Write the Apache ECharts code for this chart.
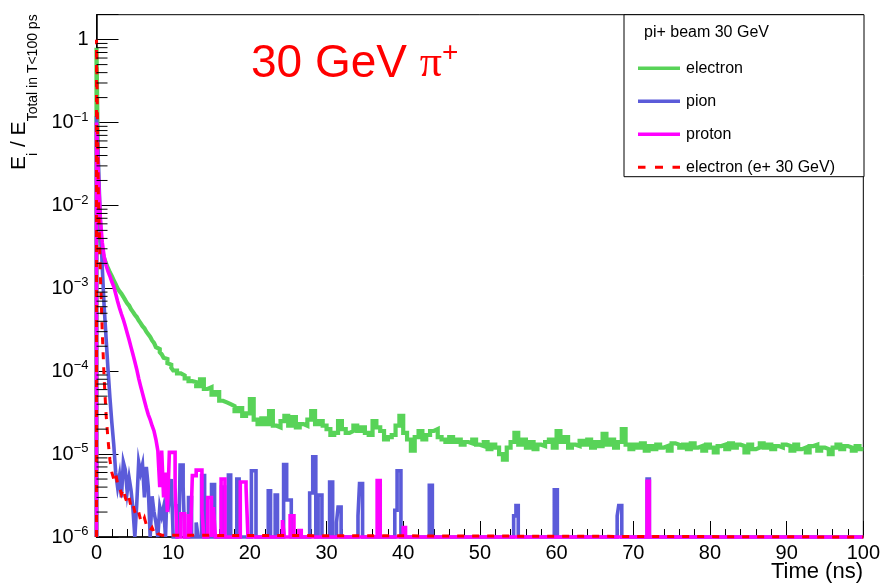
<!DOCTYPE html>
<html>
<head>
<meta charset="utf-8">
<script src="https://cdn.jsdelivr.net/npm/echarts@6/dist/echarts.min.js"></script>
<style>
  html, body { margin: 0; padding: 0; background: #fff; }
  #chart { width: 883px; height: 584px; }
</style>
</head>
<body>
<div id="chart"></div>
<script>
// Energy fraction per time bin, E_i / E_total (T < 100 ps), 30 GeV pi+ beam.
// Each entry is [bin start (ns), bin content]; a content of 0 is an empty bin.

const Y_MIN = 1e-6;
const Y_MAX = 2;

// electron component: fine bins up to 10 ns
const electronHead = [
  [0, 0.8], [0.25, 0.012], [0.5, 4e-3], [0.75, 2.8e-3], [1.0, 2.3e-3], [1.25, 2.0e-3],
  [1.5, 1.75e-3], [1.75, 1.55e-3], [2.0, 1.4e-3], [2.25, 1.25e-3], [2.5, 1.12e-3],
  [2.75, 1.0e-3], [3.0, 9.2e-4], [3.25, 8.6e-4], [3.5, 7.9e-4], [3.75, 7.2e-4],
  [4.0, 6.6e-4], [4.25, 6.2e-4], [4.5, 5.6e-4], [4.75, 5.2e-4], [5.0, 4.8e-4],
  [5.25, 4.5e-4], [5.5, 4.1e-4], [5.75, 3.8e-4], [6.0, 3.5e-4], [6.25, 3.3e-4],
  [6.5, 3.0e-4], [6.75, 2.8e-4], [7.0, 2.6e-4], [7.25, 2.35e-4], [7.5, 2.2e-4],
  [7.75, 1.95e-4], [8.0, 1.85e-4], [8.25, 1.7e-4], [8.5, 1.6e-4], [8.75, 1.45e-4],
  [9.0, 1.4e-4], [9.25, 1.25e-4], [9.5, 1.2e-4], [9.75, 1.1e-4]
];
// electron component: 0.5 ns bins from 10 ns to 100 ns
const electronTailStart = 10;
const electronTailWidth = 0.5;
const electronTail = [
  1.02e-4, 9.4e-5, 8.9e-5, 8.2e-5, 7.6e-5, 7.4e-5, 6.6e-5, 8.0e-5, 6.1e-5, 6.4e-5,
  5.2e-5, 5.6e-5, 4.4e-5, 4.2e-5, 4.0e-5, 3.8e-5, 3.3e-5, 3.6e-5, 2.9e-5, 3.1e-5,
  4.6e-5, 2.6e-5, 2.3e-5, 2.7e-5, 2.3e-5, 3.3e-5, 2.2e-5, 2.1e-5, 2.5e-5, 2.9e-5,
  2.2e-5, 2.8e-5, 2.1e-5, 2.3e-5, 2.2e-5, 2.6e-5, 3.3e-5, 2.3e-5, 2.5e-5, 2.2e-5,
  2.0e-5, 1.7e-5, 1.8e-5, 2.5e-5, 2.0e-5, 1.8e-5, 1.9e-5, 2.2e-5, 1.9e-5, 2.1e-5,
  1.8e-5, 1.7e-5, 2.5e-5, 2.1e-5, 1.9e-5, 1.5e-5, 1.6e-5, 1.7e-5, 2.2e-5, 2.9e-5,
  1.8e-5, 1.5e-5, 1.1e-5, 1.6e-5, 1.9e-5, 1.5e-5, 1.7e-5, 1.9e-5, 2.0e-5, 1.6e-5,
  1.5e-5, 1.4e-5, 1.6e-5, 1.4e-5, 1.5e-5, 1.3e-5, 1.4e-5, 1.35e-5, 1.5e-5, 1.3e-5,
  1.25e-5, 1.4e-5, 1.15e-5, 1.3e-5, 1.2e-5, 1.0e-5, 8.6e-6, 1.2e-5, 1.4e-5, 1.8e-5,
  1.3e-5, 1.5e-5, 1.2e-5, 1.4e-5, 1.15e-5, 1.3e-5, 1.25e-5, 1.4e-5, 1.5e-5, 1.2e-5,
  1.9e-5, 1.4e-5, 1.6e-5, 1.2e-5, 1.3e-5, 1.25e-5, 1.45e-5, 1.3e-5, 1.5e-5, 1.2e-5,
  1.4e-5, 1.25e-5, 1.75e-5, 1.3e-5, 1.5e-5, 1.2e-5, 1.4e-5, 2.0e-5, 1.3e-5, 1.15e-5,
  1.3e-5, 1.2e-5, 1.35e-5, 1.1e-5, 1.25e-5, 1.15e-5, 1.3e-5, 1.2e-5, 1.25e-5, 1.1e-5,
  1.35e-5, 1.3e-5, 1.2e-5, 1.3e-5, 1.15e-5, 1.35e-5, 1.2e-5, 1.25e-5, 1.1e-5, 1.3e-5,
  1.2e-5, 1.05e-5, 1.25e-5, 1.3e-5, 1.15e-5, 1.35e-5, 1.2e-5, 1.3e-5, 1.25e-5, 1.05e-5,
  1.3e-5, 1.15e-5, 1.2e-5, 1.35e-5, 1.2e-5, 1.3e-5, 1.15e-5, 1.25e-5, 1.2e-5, 1.3e-5,
  1.25e-5, 1.1e-5, 1.3e-5, 1.15e-5, 1.2e-5, 1.05e-5, 1.25e-5, 1.3e-5, 1.1e-5, 1.2e-5,
  1.15e-5, 1.0e-5, 1.2e-5, 1.3e-5, 1.15e-5, 1.25e-5, 1.2e-5, 1.1e-5, 1.25e-5, 1.15e-5
];

// pion component
const pionHist = [
  [0, 0.12], [0.25, 0.032], [0.5, 6.5e-3], [0.75, 1.8e-3], [1.0, 6e-4], [1.25, 2.5e-4],
  [1.5, 1.05e-4], [1.75, 4.8e-5], [2.0, 2.4e-5], [2.25, 1.3e-5], [2.5, 6e-6], [2.75, 4e-6],
  [3.0, 5.5e-6], [3.25, 3e-6], [3.5, 8e-6], [3.75, 6.5e-6], [4.0, 3.5e-6], [4.25, 5.2e-6],
  [4.5, 3.7e-6], [4.75, 2.2e-6], [5.0, 0], [5.25, 2.5e-6], [5.5, 8e-6], [5.75, 6e-6],
  [6.0, 7.5e-6], [6.25, 3e-6], [6.5, 7e-6], [6.75, 4e-6], [7.0, 0], [7.25, 3.1e-6],
  [7.5, 2e-6], [7.75, 1.5e-6], [8.0, 0], [8.25, 2.3e-6], [8.5, 1.8e-6], [8.75, 2.3e-6],
  [9.0, 0], [9.25, 4.9e-6], [9.5, 3e-6], [9.75, 5e-6], [10.0, 0], [10.5, 2.5e-6],
  [10.75, 0], [10.9, 7.4e-6], [11.3, 4e-6], [11.5, 0], [12.0, 3e-6], [12.4, 0],
  [13.0, 1.5e-6], [13.25, 0], [13.7, 5.5e-6], [14.1, 0], [15.0, 4.3e-6], [15.4, 0],
  [16.3, 4e-6], [16.7, 0], [17.2, 5.6e-6], [17.5, 0], [18.3, 5e-6], [18.6, 0],
  [20.2, 6.3e-6], [20.8, 0], [22.4, 3.6e-6], [22.7, 0], [23.3, 3.2e-6], [23.6, 0],
  [24.4, 7.5e-6], [24.8, 2.8e-6], [25.4, 0], [27.8, 3.4e-6], [28.2, 9.3e-6], [28.6, 0],
  [28.9, 3.2e-6], [29.4, 0], [30.4, 4.6e-6], [30.8, 0], [31.3, 1.5e-6], [31.5, 2.3e-6],
  [31.9, 0], [34.1, 1.8e-6], [34.3, 4.4e-6], [34.7, 0], [38.9, 2.1e-6], [39.2, 6.3e-6],
  [39.7, 0], [43.4, 4.2e-6], [43.8, 0], [54.4, 1.8e-6], [54.7, 2.4e-6], [55.0, 0],
  [59.7, 3.7e-6], [60.1, 0], [67.9, 1.8e-6], [68.1, 2.4e-6], [68.5, 0], [71.8, 5e-6],
  [72.1, 0], [100, 0]
];

// proton component
const protonHist = [
  [0, 0.1], [0.25, 0.022], [0.5, 7e-3], [0.75, 3.6e-3], [1.0, 2.4e-3], [1.25, 1.9e-3],
  [1.5, 1.6e-3], [1.75, 1.4e-3], [2.0, 1.2e-3], [2.25, 1.05e-3], [2.5, 8.6e-4], [2.75, 7e-4],
  [3.0, 5.8e-4], [3.25, 4.9e-4], [3.5, 4.2e-4], [3.75, 3.5e-4], [4.0, 2.9e-4], [4.25, 2.4e-4],
  [4.5, 1.95e-4], [4.75, 1.6e-4], [5.0, 1.3e-4], [5.25, 1.05e-4], [5.5, 8.2e-5], [5.75, 6.6e-5],
  [6.0, 5.4e-5], [6.25, 4.4e-5], [6.5, 3.6e-5], [6.75, 3.0e-5], [7.0, 2.6e-5], [7.25, 2.2e-5],
  [7.5, 1.9e-5], [7.75, 1.5e-5], [8.0, 1.1e-5], [8.25, 4e-6], [8.5, 1.1e-5], [8.75, 3e-6],
  [9.0, 6e-6], [9.25, 2e-6], [9.5, 1.05e-5], [10.25, 4e-6], [10.5, 0], [11.0, 1.9e-6],
  [11.5, 0], [12.0, 1.9e-6], [12.25, 0], [12.5, 5.5e-6], [13.0, 6.4e-6], [13.75, 2.1e-6],
  [14.0, 0], [14.5, 3e-6], [15.0, 0], [15.25, 2.3e-6], [15.5, 0], [16.25, 5e-6], [16.75, 0],
  [18.75, 4.6e-6], [19.5, 4e-6], [19.75, 0], [24.25, 1.6e-6], [24.5, 0], [25.25, 1.8e-6],
  [25.75, 0], [26.4, 1.2e-6], [26.7, 0], [36.6, 4.8e-6], [37.0, 0], [40.0, 1.3e-6],
  [40.3, 0], [71.8, 4.7e-6], [72.1, 0], [100, 0]
];

// electron component with a 30 GeV e+ beam
const positronElectronHist = [
  [0, 1.0], [0.25, 0.012], [0.5, 1.5e-3], [0.75, 3e-4], [1.0, 8e-5], [1.25, 3e-5],
  [1.5, 1.5e-5], [1.75, 8.5e-6], [2.0, 6e-6], [2.25, 5e-6], [2.5, 5.8e-6], [2.75, 4.4e-6],
  [3.0, 4e-6], [3.25, 3.3e-6], [3.5, 3.8e-6], [3.75, 3e-6], [4.0, 2.6e-6], [4.25, 3e-6],
  [4.5, 2.3e-6], [4.75, 2.5e-6], [5.0, 2e-6], [5.25, 1.8e-6], [5.5, 2e-6], [5.75, 1.6e-6],
  [6.0, 1.5e-6], [6.25, 1.7e-6], [6.5, 1.4e-6], [6.75, 1.3e-6], [7.0, 1.2e-6], [7.25, 1.3e-6],
  [7.5, 1.15e-6], [7.75, 1.2e-6], [8.0, 1.1e-6], [8.25, 1.05e-6], [8.5, 0], [100, 0]
];

const seriesNames = ['electron', 'pion', 'proton', 'electron (e+ 30 GeV)'];
const seriesColors = ['#58d358', '#5b5bd9', '#ff00ff', '#ff0000'];
const xTickLabels = [0, 10, 20, 30, 40, 50, 60, 70, 80, 90, 100];

const FONT = '"Liberation Sans", Arial, Helvetica, sans-serif';

// Legend keys: a solid bar, or three dashes for the dashed histogram.
const SOLID_KEY = 'path://M0,0h42v3.6h-42z';
const DASHED_KEY = 'path://M0,0h7.5v3h-7.5z M17,0h8v3h-8z M34.5,0h7.5v3h-7.5z';

// Assemble the electron histogram from its two binnings.
function electronHist() {
  const out = electronHead.slice();
  electronTail.forEach((v, i) => out.push([electronTailStart + i * electronTailWidth, v]));
  out.push([100, electronTail[electronTail.length - 1]]);
  return out;
}

// Histogram outline: rise from the axis floor at the first edge, empty bins sit on the floor.
function outline(hist) {
  const pts = [[hist[0][0], Y_MIN]];
  hist.forEach(([t, v]) => pts.push([t, v > 0 ? v : Y_MIN]));
  return pts;
}

// Minor ticks of the log axis: 2..9 x 10^k
const minorTickValues = [];
for (let k = -6; k <= 0; k++) {
  for (let m = 2; m <= 9; m++) {
    const v = m * Math.pow(10, k);
    if (v > Y_MIN && v < Y_MAX) minorTickValues.push([0, v]);
  }
}

const histograms = [electronHist(), pionHist, protonHist, positronElectronHist];

const lineSeries = histograms.map((h, i) => ({
  name: seriesNames[i],
  type: 'line',
  step: 'end',
  symbol: 'none',
  clip: false,
  z: 2 + i,
  data: outline(h),
  color: seriesColors[i],
  lineStyle: {
    color: seriesColors[i],
    width: i === 0 ? 4.2 : (i === 3 ? 3 : 3.6),
    type: i === 3 ? [7, 8] : 'solid',
    cap: 'butt',
    join: 'miter'
  },
  animation: false
}));

const chart = echarts.init(document.getElementById('chart'), null, { renderer: 'canvas' });

chart.setOption({
  animation: false,
  backgroundColor: '#fff',
  grid: {
    left: 96.5, right: 19.5, top: 14.7, bottom: 47,
    show: true, borderColor: '#000', borderWidth: 1, backgroundColor: 'transparent'
  },
  xAxis: {
    type: 'value', min: 0, max: 100, interval: 10,
    axisLine: { show: true, onZero: false, lineStyle: { color: '#000', width: 1.5 } },
    axisTick: { show: true, inside: true, length: 16, lineStyle: { color: '#000', width: 1 } },
    minorTick: { show: true, splitNumber: 5, length: 8, lineStyle: { color: '#000', width: 1 } },
    splitLine: { show: false },
    axisLabel: {
      margin: 6, color: '#000', fontSize: 20, fontFamily: FONT,
      formatter: v => (xTickLabels.indexOf(v) >= 0 ? String(v) : '')
    }
  },
  yAxis: {
    type: 'log', logBase: 10, min: Y_MIN, max: Y_MAX,
    axisLine: { show: true, lineStyle: { color: '#000', width: 1.5 } },
    axisTick: { show: true, inside: true, length: 22, lineStyle: { color: '#000', width: 1 } },
    splitLine: { show: false },
    axisLabel: {
      margin: 8, color: '#000', fontFamily: FONT,
      formatter: v => {
        const e = Math.log10(v);
        const k = Math.round(e);
        if (Math.abs(e - k) > 1e-6) return '';
        if (k === 0) return '{b|1}';
        return '{b|10}{s|' + (k < 0 ? '\u2212' : '') + Math.abs(k) + '}';
      },
      rich: {
        b: { fontSize: 20, fontFamily: FONT, color: '#000', lineHeight: 24 },
        s: { fontSize: 13, fontFamily: FONT, color: '#000', lineHeight: 12, verticalAlign: 'top' }
      }
    }
  },
  legend: {
    orient: 'vertical', left: 633, top: 55.3, z: 200,
    itemWidth: 42, itemHeight: 3.6, itemGap: 17,
    selectedMode: false,
    data: seriesNames.map((n, i) => ({ name: n, icon: i === 3 ? DASHED_KEY : SOLID_KEY })),
    textStyle: { fontSize: 16, fontFamily: FONT, color: '#000', padding: [0, 0, 0, 1] }
  },
  graphic: [
    {
      type: 'rect', z: 150, silent: true,
      shape: { x: 624, y: 14.7, width: 240, height: 162 },
      style: { fill: '#fff', stroke: '#000', lineWidth: 1 }
    },
    {
      type: 'text', z: 160, silent: true, x: 644, y: 32.7,
      style: { text: 'pi+ beam 30 GeV', fontSize: 16, fontFamily: FONT, fill: '#000', verticalAlign: 'middle' }
    },
    {
      type: 'text', z: 160, silent: true, x: 251, y: 64,
      style: {
        text: '{t|30 GeV }{p|\u03c0}{u|+}',
        verticalAlign: 'middle',
        rich: {
          t: { fontSize: 46, fontFamily: FONT, fill: '#ff0000', lineHeight: 50 },
          p: { fontSize: 44, fontFamily: '"Liberation Serif", "DejaVu Serif", serif', fill: '#ff0000', lineHeight: 50 },
          u: { fontSize: 28, fontFamily: FONT, fill: '#ff0000', lineHeight: 33, verticalAlign: 'top' }
        }
      }
    },
    {
      type: 'text', z: 160, silent: true, x: 863, y: 571.5,
      style: { text: 'Time (ns)', fontSize: 22, fontFamily: FONT, fill: '#000', align: 'right', verticalAlign: 'middle' }
    },
    {
      type: 'text', z: 160, silent: true, x: 8.5, y: 170, rotation: Math.PI / 2,
      style: {
        text: '{m|E}{s|i}{m| / E}{s|Total in T<100 ps}',
        align: 'left', verticalAlign: 'top',
        rich: {
          m: { fontSize: 21, fontFamily: FONT, fill: '#000', lineHeight: 24, verticalAlign: 'top' },
          s: { fontSize: 14, fontFamily: FONT, fill: '#000', lineHeight: 49 }
        }
      }
    }
  ],
  series: lineSeries.concat([{
    type: 'custom',
    silent: true,
    z: 20,
    clip: false,
    data: minorTickValues,
    encode: { x: 0, y: 1 },
    renderItem: (params, api) => {
      const p = api.coord([api.value(0), api.value(1)]);
      return {
        type: 'line',
        shape: { x1: p[0], y1: p[1], x2: p[0] + 11, y2: p[1] },
        style: { stroke: '#000', lineWidth: 1 }
      };
    }
  }])
});
</script>
</body>
</html>
